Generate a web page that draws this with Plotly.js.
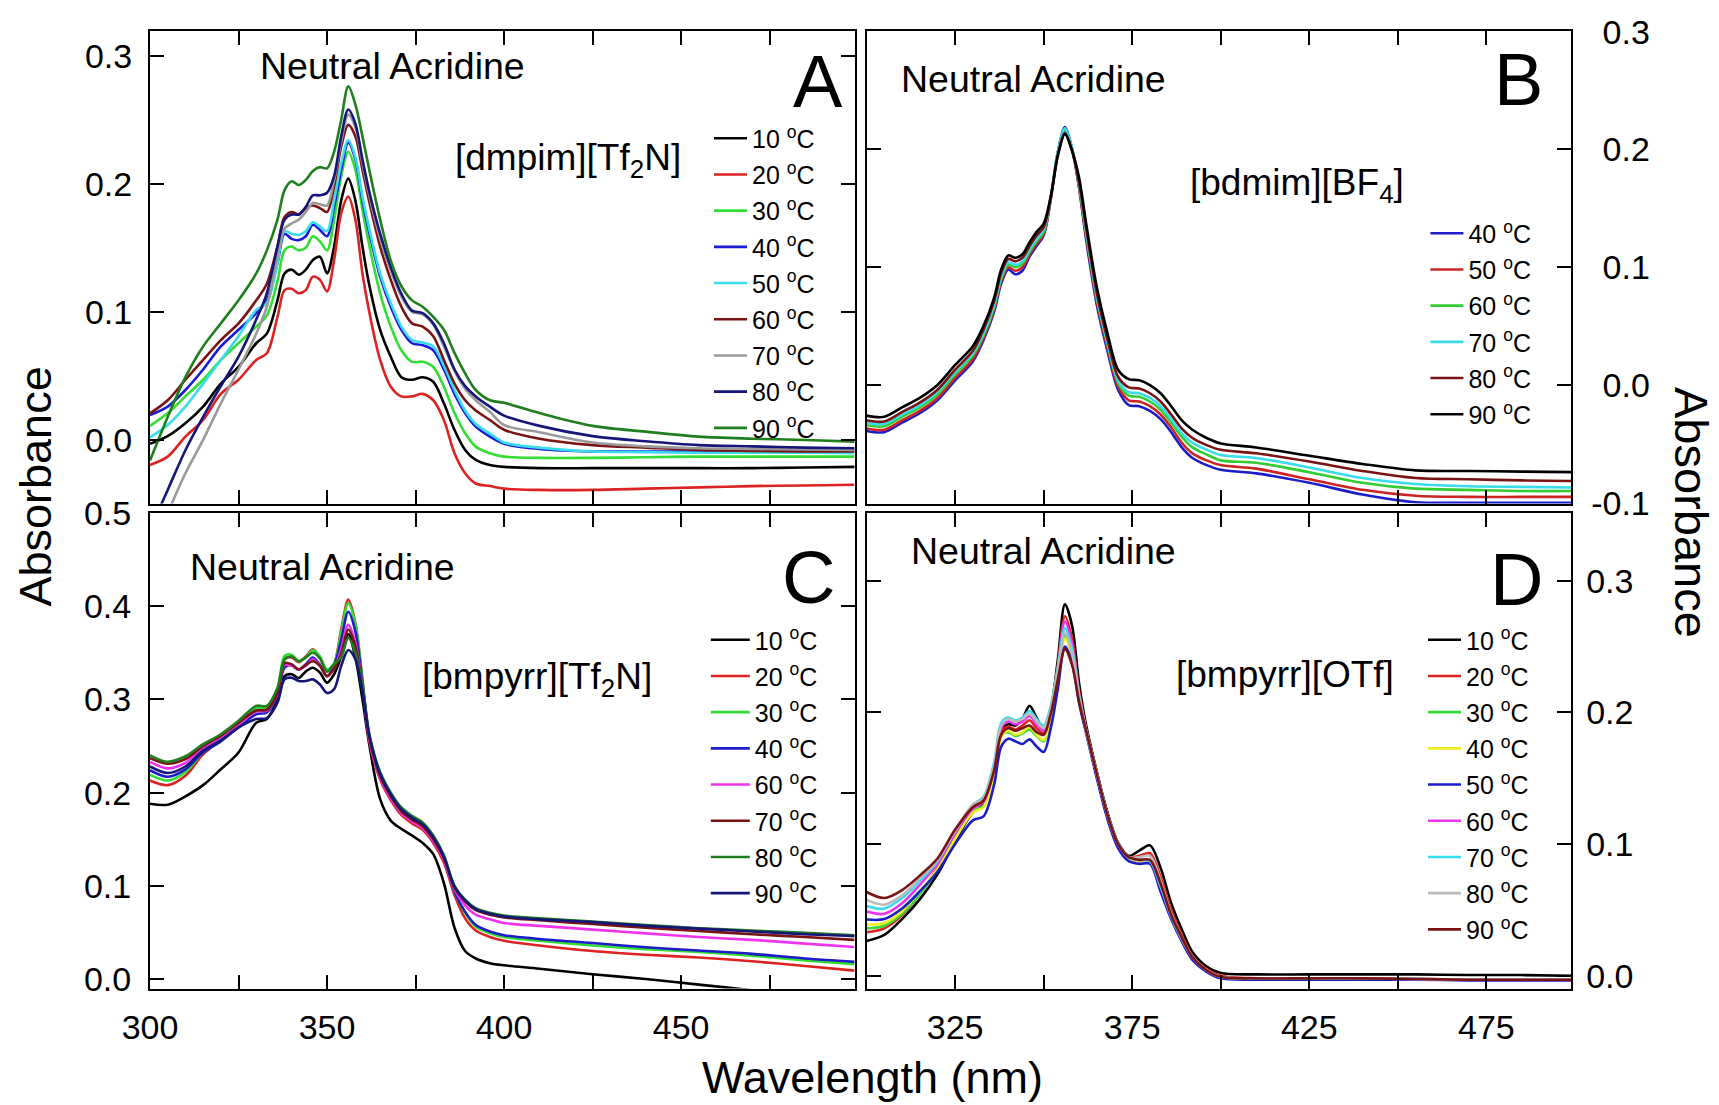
<!DOCTYPE html>
<html><head><meta charset="utf-8">
<script src="https://cdn.plot.ly/plotly-3.0.1.min.js"></script>
<style>html,body{margin:0;padding:0;background:#fff}#chart{width:1719px;height:1105px}</style>
</head><body><div id="chart"></div>
<script>
// ---------- shared wavelength grid (nm) ----------
const wavelength = [300,305,310,315,320,325,330,333,336,338,340,342,344,346,348,350,352,354,356,358,360,362,365,368,371,374,377,380,383,386,389,392,396,400,410,425,440,455,470,485,499];

// ---------- Panel A: [dmpim][Tf2N] ----------
const tempsA = [10,20,30,40,50,60,70,80,90];
const A_10 = [-0.003,0.003,0.013,0.026,0.044,0.057,0.0755,0.083,0.109,0.130,0.133,0.129,0.133,0.1405,0.143,0.130,0.151,0.187,0.204,0.187,0.151,0.120,0.086,0.065,0.049,0.047,0.049,0.0455,0.0286,0.0078,-0.0078,-0.0156,-0.0195,-0.021,-0.022,-0.022,-0.022,-0.022,-0.022,-0.0215,-0.021];
const A_20 = [-0.0195,-0.013,0.0026,0.0156,0.036,0.047,0.0625,0.0677,0.096,0.117,0.118,0.1145,0.117,0.1275,0.125,0.116,0.1405,0.177,0.190,0.172,0.130,0.099,0.0625,0.0416,0.034,0.034,0.036,0.031,0.0156,-0.0104,-0.026,-0.034,-0.036,-0.038,-0.039,-0.039,-0.038,-0.037,-0.036,-0.0355,-0.035];
const A_30 = [0.011,0.0208,0.034,0.047,0.0625,0.0755,0.0885,0.097,0.124,0.148,0.151,0.148,0.150,0.159,0.155,0.148,0.172,0.206,0.225,0.211,0.1795,0.151,0.1145,0.0885,0.070,0.061,0.061,0.057,0.0416,0.021,0.0052,-0.0052,-0.0104,-0.013,-0.014,-0.014,-0.0135,-0.013,-0.013,-0.013,-0.013];
const A_40 = [0.0195,0.026,0.039,0.055,0.073,0.086,0.099,0.109,0.138,0.161,0.157,0.156,0.159,0.168,0.164,0.159,0.182,0.211,0.232,0.219,0.187,0.161,0.1275,0.104,0.086,0.0755,0.074,0.070,0.055,0.036,0.021,0.0104,0.0026,-0.003,-0.007,-0.009,-0.009,-0.009,-0.0085,-0.008,-0.008];
const A_50 = [0.002,0.0117,0.026,0.044,0.0625,0.081,0.1015,0.107,0.138,0.163,0.161,0.160,0.163,0.170,0.1665,0.163,0.187,0.216,0.234,0.221,0.190,0.164,0.130,0.107,0.0885,0.078,0.076,0.073,0.058,0.039,0.023,0.0125,0.005,-0.002,-0.006,-0.009,-0.0095,-0.010,-0.010,-0.010,-0.0104];
const A_60 = [0.0208,0.031,0.047,0.0625,0.078,0.091,0.109,0.122,0.151,0.174,0.178,0.176,0.181,0.183,0.181,0.178,0.198,0.229,0.246,0.237,0.211,0.185,0.151,0.125,0.104,0.091,0.0885,0.081,0.0625,0.044,0.031,0.023,0.0156,0.008,0.001,-0.004,-0.006,-0.0078,-0.0085,-0.009,-0.009];
const A_70 = [-0.088,-0.057,-0.026,0.0,0.0286,0.055,0.083,0.104,0.143,0.165,0.169,0.172,0.178,0.185,0.184,0.183,0.203,0.233,0.254,0.244,0.216,0.190,0.157,0.132,0.112,0.100,0.098,0.090,0.073,0.054,0.040,0.031,0.022,0.0117,0.006,-0.002,-0.005,-0.0065,-0.007,-0.0075,-0.0078];
const A_80 = [-0.070,-0.039,-0.008,0.018,0.042,0.065,0.094,0.1145,0.151,0.172,0.176,0.176,0.182,0.191,0.191,0.193,0.206,0.237,0.258,0.247,0.219,0.193,0.161,0.135,0.114,0.101,0.099,0.091,0.0755,0.055,0.042,0.034,0.026,0.019,0.011,0.003,-0.001,-0.004,-0.005,-0.006,-0.0065];
const A_90 = [-0.016,0.018,0.049,0.073,0.091,0.109,0.130,0.148,0.172,0.195,0.202,0.199,0.203,0.210,0.213,0.212,0.225,0.250,0.276,0.262,0.237,0.210,0.172,0.140,0.120,0.109,0.104,0.096,0.086,0.068,0.052,0.039,0.031,0.029,0.021,0.011,0.0065,0.0026,0.001,0.0,-0.0013];
const colorsA = ['#000000','#dd2222','#33dd33','#1c1cd8','#38dcec','#7a1414','#9a9a9a','#16167a','#1f7f1f'];

// ---------- Panel B: [bdmim][BF4] ----------
const tempsB = [40,50,60,70,80,90];
const B_40 = [-0.039,-0.040,-0.032,-0.024,-0.013,0.004,0.020,0.038,0.062,0.086,0.098,0.094,0.097,0.109,0.118,0.127,0.158,0.198,0.219,0.201,0.167,0.123,0.068,0.029,-0.004,-0.017,-0.018,-0.022,-0.029,-0.040,-0.053,-0.062,-0.068,-0.072,-0.075,-0.083,-0.093,-0.0995,-0.100,-0.100,-0.100];
const B_50 = [-0.037,-0.038,-0.030,-0.022,-0.011,0.006,0.022,0.040,0.064,0.088,0.100,0.097,0.100,0.111,0.120,0.128,0.158,0.197,0.217,0.200,0.168,0.126,0.071,0.032,-0.001,-0.013,-0.014,-0.018,-0.025,-0.036,-0.049,-0.058,-0.064,-0.068,-0.071,-0.080,-0.089,-0.094,-0.095,-0.095,-0.095];
const B_60 = [-0.034,-0.035,-0.027,-0.019,-0.008,0.009,0.025,0.042,0.066,0.090,0.102,0.100,0.103,0.113,0.122,0.130,0.159,0.197,0.216,0.200,0.170,0.129,0.074,0.035,0.002,-0.009,-0.010,-0.014,-0.021,-0.032,-0.044,-0.053,-0.059,-0.064,-0.066,-0.074,-0.083,-0.088,-0.089,-0.090,-0.090];
const B_70 = [-0.032,-0.033,-0.025,-0.017,-0.006,0.011,0.027,0.044,0.068,0.092,0.104,0.102,0.105,0.115,0.124,0.132,0.160,0.198,0.218,0.201,0.171,0.130,0.075,0.036,0.004,-0.006,-0.007,-0.011,-0.018,-0.029,-0.041,-0.049,-0.055,-0.0595,-0.062,-0.070,-0.079,-0.084,-0.086,-0.0865,-0.087];
const B_80 = [-0.030,-0.031,-0.023,-0.015,-0.004,0.013,0.029,0.047,0.071,0.095,0.107,0.105,0.108,0.118,0.127,0.134,0.159,0.195,0.214,0.199,0.172,0.133,0.078,0.039,0.007,-0.002,-0.003,-0.007,-0.014,-0.025,-0.037,-0.045,-0.051,-0.055,-0.058,-0.065,-0.073,-0.079,-0.080,-0.081,-0.0815];
const B_90 = [-0.026,-0.027,-0.019,-0.011,0.000,0.017,0.033,0.050,0.074,0.098,0.110,0.108,0.111,0.121,0.130,0.137,0.160,0.195,0.213,0.199,0.176,0.137,0.083,0.044,0.013,0.005,0.004,0.000,-0.007,-0.018,-0.030,-0.038,-0.045,-0.0496,-0.053,-0.060,-0.067,-0.0725,-0.073,-0.0735,-0.074];
const colorsB = ['#1c1cc8','#cc2424','#33cc33','#38dcec','#7a1414','#000000'];

// ---------- Panel C: [bmpyrr][Tf2N] ----------
const tempsC = [10,20,30,40,60,70,80,90];
const C_10 = [0.188,0.187,0.196,0.208,0.225,0.243,0.275,0.279,0.300,0.325,0.327,0.323,0.330,0.334,0.3287,0.318,0.327,0.346,0.370,0.345,0.300,0.250,0.193,0.170,0.161,0.154,0.146,0.134,0.103,0.055,0.030,0.022,0.017,0.0147,0.011,0.005,0.0,-0.006,-0.012,-0.018,-0.024];
const C_20 = [0.213,0.208,0.218,0.241,0.256,0.272,0.289,0.291,0.309,0.343,0.345,0.340,0.346,0.3537,0.345,0.330,0.338,0.375,0.407,0.382,0.320,0.254,0.214,0.192,0.176,0.167,0.160,0.146,0.125,0.090,0.065,0.052,0.045,0.041,0.036,0.030,0.026,0.023,0.019,0.014,0.009];
const C_30 = [0.219,0.213,0.222,0.243,0.257,0.273,0.290,0.292,0.311,0.3466,0.348,0.341,0.345,0.353,0.346,0.332,0.339,0.3716,0.403,0.381,0.322,0.258,0.218,0.196,0.180,0.171,0.164,0.150,0.129,0.094,0.071,0.056,0.049,0.045,0.041,0.036,0.032,0.029,0.025,0.020,0.016];
const C_40 = [0.224,0.217,0.225,0.243,0.255,0.270,0.284,0.286,0.305,0.334,0.337,0.332,0.3376,0.345,0.337,0.325,0.336,0.364,0.394,0.373,0.318,0.259,0.220,0.198,0.182,0.173,0.166,0.152,0.131,0.094,0.072,0.058,0.051,0.047,0.043,0.0386,0.034,0.0305,0.027,0.022,0.0184];
const C_60 = [0.233,0.226,0.232,0.248,0.259,0.273,0.287,0.288,0.306,0.337,0.336,0.332,0.336,0.343,0.336,0.325,0.333,0.354,0.380,0.361,0.314,0.256,0.216,0.194,0.178,0.169,0.162,0.148,0.128,0.096,0.079,0.069,0.064,0.060,0.057,0.053,0.049,0.045,0.042,0.038,0.0344];
const C_70 = [0.237,0.231,0.236,0.250,0.261,0.275,0.288,0.289,0.307,0.339,0.3376,0.332,0.337,0.341,0.336,0.325,0.333,0.349,0.375,0.357,0.313,0.258,0.218,0.196,0.180,0.171,0.164,0.150,0.130,0.098,0.083,0.074,0.069,0.066,0.063,0.059,0.055,0.0515,0.048,0.045,0.042];
const C_80 = [0.240,0.233,0.239,0.252,0.2626,0.277,0.293,0.293,0.3126,0.343,0.346,0.341,0.345,0.350,0.344,0.330,0.338,0.345,0.366,0.350,0.315,0.262,0.222,0.200,0.184,0.175,0.168,0.154,0.133,0.100,0.085,0.076,0.071,0.068,0.065,0.0617,0.058,0.0545,0.052,0.0495,0.047];
const C_90 = [0.228,0.221,0.228,0.245,0.256,0.270,0.279,0.280,0.2965,0.3215,0.3233,0.3197,0.3197,0.3215,0.316,0.307,0.311,0.336,0.353,0.343,0.309,0.260,0.220,0.198,0.182,0.173,0.166,0.152,0.131,0.099,0.084,0.075,0.070,0.067,0.064,0.061,0.057,0.054,0.051,0.048,0.046];
const colorsC = ['#000000','#dd2222','#33dd33','#1c1cc8','#ee33ee','#7a1414','#1f7f1f','#16167a'];

// ---------- Panel D: [bmpyrr][OTf] ----------
const tempsD = [10,20,30,40,50,60,70,80,90];
const D_10 = [0.0264,0.031,0.043,0.058,0.077,0.102,0.124,0.130,0.155,0.186,0.191,0.190,0.195,0.205,0.196,0.186,0.202,0.240,0.282,0.266,0.222,0.190,0.155,0.124,0.101,0.091,0.095,0.099,0.082,0.055,0.035,0.018,0.007,0.002,0.001,0.001,0.001,0.001,0.0005,0.0005,0.0];
const D_20 = [0.033,0.036,0.046,0.062,0.082,0.108,0.128,0.133,0.156,0.185,0.189,0.187,0.190,0.194,0.188,0.184,0.200,0.236,0.273,0.256,0.216,0.187,0.154,0.122,0.100,0.090,0.091,0.093,0.075,0.050,0.031,0.015,0.005,0.0,-0.002,-0.002,-0.002,-0.0025,-0.003,-0.003,-0.003];
const D_30 = [0.036,0.038,0.047,0.062,0.080,0.104,0.125,0.129,0.153,0.182,0.185,0.182,0.184,0.187,0.182,0.178,0.195,0.227,0.258,0.244,0.210,0.186,0.153,0.122,0.100,0.089,0.087,0.086,0.066,0.045,0.028,0.014,0.004,-0.001,-0.002,-0.002,-0.002,-0.0025,-0.003,-0.003,-0.003];
const D_40 = [0.039,0.040,0.049,0.064,0.081,0.104,0.124,0.128,0.152,0.181,0.186,0.183,0.185,0.189,0.183,0.179,0.196,0.226,0.256,0.242,0.209,0.186,0.153,0.122,0.100,0.089,0.087,0.086,0.066,0.045,0.028,0.014,0.004,-0.001,-0.002,-0.002,-0.002,-0.0025,-0.003,-0.003,-0.003];
const D_50 = [0.0427,0.043,0.051,0.064,0.079,0.100,0.118,0.121,0.145,0.174,0.180,0.178,0.176,0.1795,0.174,0.170,0.188,0.218,0.250,0.238,0.207,0.184,0.150,0.119,0.097,0.087,0.085,0.085,0.064,0.043,0.026,0.012,0.003,-0.002,-0.003,-0.003,-0.003,-0.003,-0.0035,-0.0035,-0.0035];
const D_60 = [0.0487,0.047,0.055,0.069,0.085,0.108,0.127,0.132,0.157,0.188,0.193,0.191,0.193,0.197,0.191,0.186,0.202,0.234,0.269,0.252,0.214,0.186,0.153,0.122,0.100,0.090,0.088,0.087,0.068,0.045,0.028,0.014,0.004,-0.001,-0.002,-0.002,-0.002,-0.0025,-0.003,-0.003,-0.003];
const D_70 = [0.053,0.051,0.059,0.072,0.087,0.110,0.130,0.136,0.162,0.192,0.196,0.194,0.196,0.201,0.195,0.190,0.205,0.234,0.264,0.248,0.213,0.186,0.153,0.122,0.100,0.090,0.088,0.087,0.068,0.045,0.028,0.014,0.004,-0.001,-0.002,-0.002,-0.002,-0.0025,-0.003,-0.003,-0.003];
const D_80 = [0.0576,0.054,0.061,0.074,0.088,0.110,0.130,0.135,0.160,0.190,0.195,0.193,0.195,0.199,0.193,0.188,0.203,0.232,0.260,0.245,0.212,0.186,0.153,0.122,0.100,0.090,0.090,0.091,0.072,0.047,0.029,0.014,0.004,-0.001,-0.002,-0.002,-0.002,-0.0025,-0.003,-0.003,-0.003];
const D_90 = [0.0636,0.059,0.065,0.076,0.089,0.111,0.128,0.133,0.156,0.183,0.188,0.186,0.188,0.190,0.185,0.183,0.199,0.225,0.248,0.236,0.208,0.186,0.153,0.122,0.100,0.090,0.088,0.088,0.070,0.046,0.029,0.014,0.004,-0.001,-0.002,-0.002,-0.002,-0.0025,-0.003,-0.003,-0.003];
const colorsD = ['#000000','#dd2222','#33dd33','#eeee22','#1c1cc8','#ee33ee','#38dcec','#bbbbbb','#7a1414'];

// ---------- tick labels ----------
const xTickVals = [300,325,350,375,400,425,450,475];
const xTickTextC = ['300','','350','','400','','450',''];
const xTickTextD = ['','325','','375','','425','','475'];
const yTicksA = [0,0.1,0.2,0.3];
const yTicksB = [-0.1,0,0.1,0.2,0.3];
const yTicksC = [0,0.1,0.2,0.3,0.4,0.5];
const yTicksD = [0,0.1,0.2,0.3];

// ---------- build ----------
const W = 1719, H = 1105;
const FONT = 'Liberation Sans, Arial, Helvetica, sans-serif';
const fx = v => v / W, fy = v => 1 - v / H;

function panelTraces(series, temps, colors, xa, ya, leg, tag) {
  return series.map((ys, i) => ({
    type: 'scatter', mode: 'lines', x: wavelength, y: ys,
    xaxis: xa, yaxis: ya, legend: leg, legendgroup: tag + temps[i],
    name: temps[i] + ' <sup>o</sup>C',
    line: {color: colors[i], width: 2.6, shape: 'spline', smoothing: 0.9},
    hoverinfo: 'skip'
  }));
}

const data = [].concat(
  panelTraces([A_10,A_20,A_30,A_40,A_50,A_60,A_70,A_80,A_90], tempsA, colorsA, 'x', 'y', 'legend', 'A'),
  panelTraces([B_40,B_50,B_60,B_70,B_80,B_90], tempsB, colorsB, 'x2', 'y2', 'legend2', 'B'),
  panelTraces([C_10,C_20,C_30,C_40,C_60,C_70,C_80,C_90], tempsC, colorsC, 'x3', 'y3', 'legend3', 'C'),
  panelTraces([D_10,D_20,D_30,D_40,D_50,D_60,D_70,D_80,D_90], tempsD, colorsD, 'x4', 'y4', 'legend4', 'D')
);

const axBase = {
  showline: true, linecolor: '#000', linewidth: 2, mirror: 'ticks',
  ticks: 'inside', ticklen: 14, tickwidth: 2, tickcolor: '#000',
  showgrid: false, zeroline: false,
  tickfont: {family: FONT, size: 34, color: '#000'}
};
const leftDom = [fx(150), fx(854.6)];
const rightDom = [fx(866.6), fx(1571.4)];
const topDom = [fy(503.5), fy(30.7)];
const botDom = [fy(988.5), fy(513)];

function xa(dom, anchor, text) {
  return Object.assign({}, axBase, {domain: dom, anchor: anchor, range: [300, 499],
    tickmode: 'array', tickvals: xTickVals, ticktext: text || xTickVals.map(() => ''),
    showticklabels: !!text, ticklabelstandoff: 8});
}
function ya(dom, anchor, range, vals, side, standoff, textFn) {
  return Object.assign({}, axBase, {domain: dom, anchor: anchor, range: range, side: side,
    tickmode: 'array', tickvals: vals, ticktext: vals.map(textFn || (v => v.toFixed(1))),
    ticklabelstandoff: standoff});
}

function legendAt(xpx, ytop, iw) {
  return {x: fx(xpx), y: fy(ytop), xanchor: 'left', yanchor: 'top',
    bgcolor: 'rgba(0,0,0,0)', borderwidth: 0, itemwidth: iw,
    traceorder: 'grouped', tracegroupgap: 0.7,
    font: {family: FONT, size: 25, color: '#000'}};
}

function ann(text, x, y, size, xanchor, extra) {
  return Object.assign({text: text, x: fx(x), y: fy(y), xref: 'paper', yref: 'paper',
    xanchor: xanchor || 'center', yanchor: 'middle', showarrow: false,
    font: {family: FONT, size: size, color: '#000'}}, extra || {});
}

const layout = {
  width: W, height: H, margin: {l: 0, r: 0, t: 0, b: 0},
  paper_bgcolor: '#fff', plot_bgcolor: '#fff', showlegend: true,
  xaxis: xa(leftDom, 'y'),
  yaxis: ya(topDom, 'x', [-0.0496, 0.3195], yTicksA, 'left', 9),
  xaxis2: xa(rightDom, 'y2'),
  yaxis2: ya(topDom, 'x2', [-0.1006, 0.3008], yTicksB, 'right', 11, v => (v < 0 ? '' : '\u2004') + v.toFixed(1)),
  xaxis3: xa(leftDom, 'y3', xTickTextC),
  yaxis3: ya(botDom, 'x3', [-0.0102, 0.5], yTicksC, 'left', 10),
  xaxis4: xa(rightDom, 'y4', xTickTextD),
  yaxis4: ya(botDom, 'x4', [-0.0097, 0.3514], yTicksD, 'right', 6),
  legend: legendAt(709, 115.5, 33),
  legend2: legendAt(1425.4, 210.5, 33),
  legend3: legendAt(705.8, 617, 39),
  legend4: legendAt(1423, 617, 33),
  annotations: [
    ann('Neutral Acridine', 258, 66, 37.5, 'left'),
    ann('Neutral Acridine', 899, 79, 37.5, 'left'),
    ann('Neutral Acridine', 188, 567, 37.5, 'left'),
    ann('Neutral Acridine', 909, 551, 37.5, 'left'),
    ann('[dmpim][Tf<sub>2</sub>N]', 683, 160, 37, 'right'),
    ann('[bdmim][BF<sub>4</sub>]', 1406, 185, 37, 'right'),
    ann('[bmpyrr][Tf<sub>2</sub>N]', 654, 679, 37, 'right'),
    ann('[bmpyrr][OTf]', 1396, 674, 37, 'right'),
    ann('A', 845, 82, 74, 'right'),
    ann('B', 1545, 80, 74, 'right'),
    ann('C', 837, 577, 74, 'right'),
    ann('D', 1545, 579, 74, 'right'),
    ann('Absorbance', 34.5, 487, 45, 'center', {textangle: -90}),
    ann('Absorbance', 1692, 512, 47, 'center', {textangle: 90}),
    ann('Wavelength (nm)', 872, 1077, 45, 'center')
  ]
};

Plotly.newPlot('chart', data, layout, {staticPlot: true, displayModeBar: false});
</script>
</body></html>
